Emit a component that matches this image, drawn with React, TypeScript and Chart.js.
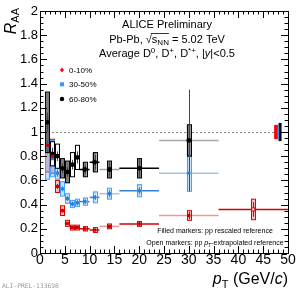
import React, { useEffect, useRef } from "react";
import { Chart, registerables } from "chart.js";
Chart.register(...registerables);

// ---- data ----
const binCenters = [1.5, 2.5, 3.5, 4.5, 5.5, 6.5, 7.5, 9, 11, 14, 20, 30, 43];
const binHalfWidths = [0.5, 0.5, 0.5, 0.5, 0.5, 0.5, 0.5, 1, 1, 2, 4, 6, 7];

const raa010 = [0.89, 0.8, 0.55, 0.35, 0.245, 0.21, 0.21, 0.2, 0.19, 0.22, 0.24, 0.31, 0.36];
const stat010 = [0.04, 0.03, 0.02, 0.015, 0.01, 0.01, 0.01, 0.01, 0.01, 0.012, 0.015, 0.03, 0.06];
const sys010 = [0.22, 0.14, 0.05, 0.04, 0.025, 0.02, 0.02, 0.018, 0.02, 0.02, 0.02, 0.04, 0.085];

const raa3050 = [0.87, 0.78, 0.66, 0.53, 0.45, 0.405, 0.415, 0.425, 0.46, 0.49, 0.515, 0.66];
const stat3050 = [0.05, 0.04, 0.03, 0.02, 0.02, 0.02, 0.02, 0.02, 0.02, 0.03, 0.03, 0.14];
const sys3050 = [0.26, 0.15, 0.05, 0.06, 0.04, 0.03, 0.03, 0.03, 0.045, 0.045, 0.05, 0.15];

const raa6080 = [1.08, 0.82, 0.8, 0.7, 0.67, 0.73, 0.79, 0.69, 0.75, 0.69, 0.7, 0.93];
const stat6080 = [0.08, 0.05, 0.04, 0.04, 0.04, 0.04, 0.05, 0.04, 0.06, 0.06, 0.08, 0.42];
const sys6080 = [0.25, 0.1, 0.1, 0.08, 0.09, 0.1, 0.1, 0.06, 0.08, 0.07, 0.08, 0.13];

const normUnc = [0.058, 0.06, 0.075]; // 0-10, 30-50, 60-80
const centralityLabels = ["0-10%", "30-50%", "60-80%"];

const FONT = "'Liberation Sans', Arial, Helvetica, sans-serif";

type Run = { t: string; size: number; italic?: boolean; dy?: number };

function runsWidth(ctx: CanvasRenderingContext2D, runs: Run[]) {
  let w = 0;
  for (const r of runs) {
    ctx.font = `${r.italic ? "italic " : ""}${r.size}px ${FONT}`;
    w += ctx.measureText(r.t).width;
  }
  return w;
}

function drawRuns(
  ctx: CanvasRenderingContext2D,
  runs: Run[],
  x: number,
  y: number,
  align: "left" | "center" | "right",
  color = "#000"
) {
  const w = runsWidth(ctx, runs);
  let cx = align === "left" ? x : align === "center" ? x - w / 2 : x - w;
  ctx.fillStyle = color;
  ctx.textAlign = "left";
  ctx.textBaseline = "alphabetic";
  const starts: number[] = [];
  for (const r of runs) {
    ctx.font = `${r.italic ? "italic " : ""}${r.size}px ${FONT}`;
    starts.push(cx);
    ctx.fillText(r.t, cx, y + (r.dy || 0));
    cx += ctx.measureText(r.t).width;
  }
  starts.push(cx);
  return starts;
}

type Series = {
  values: number[];
  stat: number[];
  sys: number[];
  marker: string;
  line: string;
  light: string;
  boxFill: string;
  boxStroke: string;
};

const series: Series[] = [
  {
    values: raa010,
    stat: stat010,
    sys: sys010,
    marker: "#c80000",
    line: "#d40000",
    light: "rgba(230,80,80,0.6)",
    boxFill: "rgba(255,60,60,0.35)",
    boxStroke: "#e00000",
  },
  {
    values: raa3050,
    stat: stat3050,
    sys: sys3050,
    marker: "#2a7fd8",
    line: "#3a80d0",
    light: "rgba(80,150,220,0.55)",
    boxFill: "rgba(80,170,255,0.35)",
    boxStroke: "#44a0ff",
  },
  {
    values: raa6080,
    stat: stat6080,
    sys: sys6080,
    marker: "#000",
    line: "#000",
    light: "rgba(0,0,0,0.35)",
    boxFill: "rgba(70,70,70,0.7)",
    boxStroke: "#000",
  },
];

const lightBin = (i: number) => i === 9 || i === 11;
const openBlackBox = (i: number) => i === 1 || i === 2 || i === 5 || i === 6;

const drawPlugin = {
  id: "aliceDecor",
  beforeDatasetsDraw(chart: any) {
    const { ctx, chartArea } = chart;
    const xs = chart.scales.x;
    const ys = chart.scales.y;
    ctx.save();
    ctx.beginPath();
    ctx.rect(chartArea.left, chartArea.top, chartArea.right - chartArea.left, chartArea.bottom - chartArea.top);
    ctx.clip();

    // dashed line at 1
    ctx.strokeStyle = "#888";
    ctx.lineWidth = 1;
    ctx.setLineDash([2, 2]);
    ctx.beginPath();
    ctx.moveTo(xs.getPixelForValue(0), ys.getPixelForValue(1) + 0.5);
    ctx.lineTo(xs.getPixelForValue(50), ys.getPixelForValue(1) + 0.5);
    ctx.stroke();
    ctx.setLineDash([]);

    // normalisation boxes (drawn black, blue, red)
    const normPos = [
      [47.2, 47.9],
      [47.5, 48.2],
      [48.1, 48.7],
    ];
    const normCol = ["#ff0000", "#3399ff", "#000"];
    [2, 1, 0].forEach((k) => {
      const x0 = xs.getPixelForValue(normPos[k][0]);
      const x1 = xs.getPixelForValue(normPos[k][1]);
      const y0 = ys.getPixelForValue(1 + normUnc[k]);
      const y1 = ys.getPixelForValue(1 - normUnc[k]);
      ctx.fillStyle = normCol[k];
      ctx.fillRect(x0, y0, x1 - x0, y1 - y0);
    });

    const bw = 0.4;
    series.forEach((s, si) => {
      s.values.forEach((v, i) => {
        const c = binCenters[i];
        const hw = binHalfWidths[i];
        const py = ys.getPixelForValue(v);
        // bin width line
        ctx.strokeStyle = lightBin(i) ? s.light : s.line;
        ctx.lineWidth = 1.5;
        ctx.beginPath();
        ctx.moveTo(xs.getPixelForValue(c - hw), py);
        ctx.lineTo(xs.getPixelForValue(c + hw), py);
        ctx.stroke();
        // syst box
        const bx0 = xs.getPixelForValue(c - bw);
        const bx1 = xs.getPixelForValue(c + bw);
        const by0 = ys.getPixelForValue(v + s.sys[i]);
        const by1 = ys.getPixelForValue(v - s.sys[i]);
        if (si === 2 && openBlackBox(i)) {
          ctx.fillStyle = "rgba(255,255,255,0.9)";
        } else {
          ctx.fillStyle = s.boxFill;
        }
        ctx.fillRect(bx0, by0, bx1 - bx0, by1 - by0);
        ctx.strokeStyle = s.boxStroke;
        ctx.lineWidth = 1;
        ctx.strokeRect(Math.round(bx0) + 0.5, by0, Math.round(bx1 - bx0), by1 - by0);
        // stat bar
        const sx = Math.round(xs.getPixelForValue(c)) + 0.5;
        ctx.strokeStyle = si === 2 ? "#444" : s.line;
        ctx.lineWidth = 1;
        ctx.beginPath();
        ctx.moveTo(sx, ys.getPixelForValue(v + s.stat[i]));
        ctx.lineTo(sx, ys.getPixelForValue(v - s.stat[i]));
        ctx.stroke();
      });
    });
    ctx.restore();
  },
  afterDraw(chart: any) {
    const { ctx, chartArea } = chart;
    const xs = chart.scales.x;
    const ys = chart.scales.y;
    const L = chartArea.left,
      R = chartArea.right,
      T = chartArea.top,
      B = chartArea.bottom;
    ctx.save();
    // frame
    ctx.strokeStyle = "#000";
    ctx.lineWidth = 1;
    ctx.strokeRect(Math.round(L) + 0.5, Math.round(T) + 0.5, Math.round(R - L), Math.round(B - T));
    // ticks
    ctx.beginPath();
    for (let i = 0; i <= 40; i++) {
      const v = i * 0.05;
      const py = Math.round(ys.getPixelForValue(v)) + 0.5;
      const len = i % 4 === 0 ? 7 : 3.5;
      ctx.moveTo(L, py);
      ctx.lineTo(L + len, py);
      ctx.moveTo(R, py);
      ctx.lineTo(R - len, py);
    }
    for (let i = 0; i <= 50; i++) {
      const px = Math.round(xs.getPixelForValue(i)) + 0.5;
      const len = i % 5 === 0 ? 7 : 3.5;
      ctx.moveTo(px, B);
      ctx.lineTo(px, B - len);
      ctx.moveTo(px, T);
      ctx.lineTo(px, T + len);
    }
    ctx.stroke();

    // axis titles
    drawRuns(
      ctx,
      [
        { t: "p", size: 16, italic: true },
        { t: "T", size: 11, dy: 4 },
        { t: " (GeV/", size: 16 },
        { t: "c", size: 16, italic: true },
        { t: ")", size: 16 },
      ],
      288,
      284,
      "right"
    );
    ctx.save();
    ctx.translate(16, 8);
    ctx.rotate(-Math.PI / 2);
    drawRuns(
      ctx,
      [
        { t: "R", size: 16, italic: true },
        { t: "AA", size: 11, dy: 3 },
      ],
      0,
      0,
      "right"
    );
    ctx.restore();

    // header texts
    const cx = 167;
    drawRuns(ctx, [{ t: "ALICE Preliminary", size: 11 }], cx, 28.3, "center");
    const st = drawRuns(
      ctx,
      [
        { t: "Pb-Pb, ", size: 11 },
        { t: "\u221A", size: 11 },
        { t: "s", size: 11 },
        { t: "NN", size: 8, dy: 2.5 },
        { t: " = 5.02 TeV", size: 11 },
      ],
      cx,
      42.7,
      "center"
    );
    ctx.beginPath();
    ctx.lineWidth = 0.8;
    ctx.moveTo(st[1] + 5, 33.5);
    ctx.lineTo(st[4], 33.5);
    ctx.stroke();
    drawRuns(
      ctx,
      [
        { t: "Average D", size: 11 },
        { t: "0", size: 8, dy: -4.5 },
        { t: ", D", size: 11 },
        { t: "+", size: 8, dy: -4.5 },
        { t: ", D", size: 11 },
        { t: "*+", size: 8, dy: -4.5 },
        { t: ", |", size: 11 },
        { t: "y", size: 11, italic: true },
        { t: "|<0.5", size: 11 },
      ],
      cx,
      57,
      "center"
    );

    // legend
    const legY = [70, 84.3, 99];
    const legCol = ["#ff0000", "#3399ff", "#000"];
    legY.forEach((y, k) => {
      ctx.fillStyle = legCol[k];
      ctx.beginPath();
      if (k === 0) {
        ctx.moveTo(62, y - 2.5);
        ctx.lineTo(64, y);
        ctx.lineTo(62, y + 2.5);
        ctx.lineTo(60, y);
        ctx.closePath();
      } else if (k === 1) {
        ctx.rect(60, y - 2, 4, 4);
      } else {
        ctx.arc(62, y, 2.2, 0, Math.PI * 2);
      }
      ctx.fill();
      ctx.font = `8px ${FONT}`;
      ctx.fillStyle = "#000";
      ctx.textBaseline = "middle";
      ctx.fillText(centralityLabels[k], 69, y + 0.5);
    });

    // footnotes
    drawRuns(ctx, [{ t: "Filled markers: pp rescaled reference", size: 7 }], 215, 233, "center");
    drawRuns(
      ctx,
      [
        { t: "Open markers: pp ", size: 7 },
        { t: "p", size: 7, italic: true },
        { t: "T", size: 5, dy: 1.5 },
        { t: "-extrapolated reference", size: 7 },
      ],
      215,
      245,
      "center"
    );
    ctx.font = `6.3px 'DejaVu Sans Mono', monospace`;
    ctx.fillStyle = "#999";
    ctx.textAlign = "left";
    ctx.textBaseline = "alphabetic";
    ctx.fillText("ALI-PREL-133698", 2, 288);
    ctx.restore();
  },
};

export default function App() {
  const ref = useRef<HTMLCanvasElement>(null);
  useEffect(() => {
    const mk = (vals: number[]) => vals.map((v, i) => ({ x: binCenters[i], y: v }));
    const chart = new Chart(ref.current as HTMLCanvasElement, {
      type: "scatter",
      data: {
        datasets: [
          {
            label: centralityLabels[0],
            data: mk(raa010),
            pointStyle: "rect",
            pointRadius: 2.2,
            backgroundColor: raa010.map((_, i) => (i === raa010.length - 1 ? "#fff" : "#c80000")),
            borderColor: "#c80000",
            borderWidth: raa010.map((_, i) => (i === raa010.length - 1 ? 1 : 0)),
          },
          {
            label: centralityLabels[1],
            data: mk(raa3050),
            pointStyle: "rect",
            pointRadius: 2.2,
            backgroundColor: "#2a7fd8",
            borderWidth: 0,
          },
          {
            label: centralityLabels[2],
            data: mk(raa6080),
            pointStyle: "circle",
            pointRadius: 2.4,
            backgroundColor: "#000",
            borderWidth: 0,
          },
        ] as any,
      },
      options: {
        animation: false,
        responsive: true,
        maintainAspectRatio: false,
        layout: { padding: { top: 11, right: 12, left: 0, bottom: 0 } },
        plugins: { legend: { display: false }, tooltip: { enabled: false } },
        scales: {
          x: {
            type: "linear",
            min: 0,
            max: 50,
            grid: { display: false, drawTicks: false },
            border: { display: false },
            ticks: {
              stepSize: 5,
              autoSkip: false,
              maxRotation: 0,
              padding: -1,
              color: "#000",
              font: { family: FONT, size: 14 },
              callback: (v: any) => String(v),
            },
            afterFit: (s: any) => {
              s.height = 37;
            },
          },
          y: {
            type: "linear",
            min: 0,
            max: 2,
            grid: { display: false, drawTicks: false },
            border: { display: false },
            ticks: {
              stepSize: 0.2,
              autoSkip: false,
              padding: 2,
              color: "#000",
              font: { family: FONT, size: 13 },
              callback: (v: any) => String(Math.round(Number(v) * 10) / 10),
            },
            afterFit: (s: any) => {
              s.width = 40;
            },
          },
        },
      } as any,
      plugins: [drawPlugin],
    });
    return () => chart.destroy();
  }, []);
  return (
    <div style={{ position: "fixed", left: 0, top: 0, width: 300, height: 290, background: "#fff" }}>
      <canvas ref={ref} />
    </div>
  );
}
